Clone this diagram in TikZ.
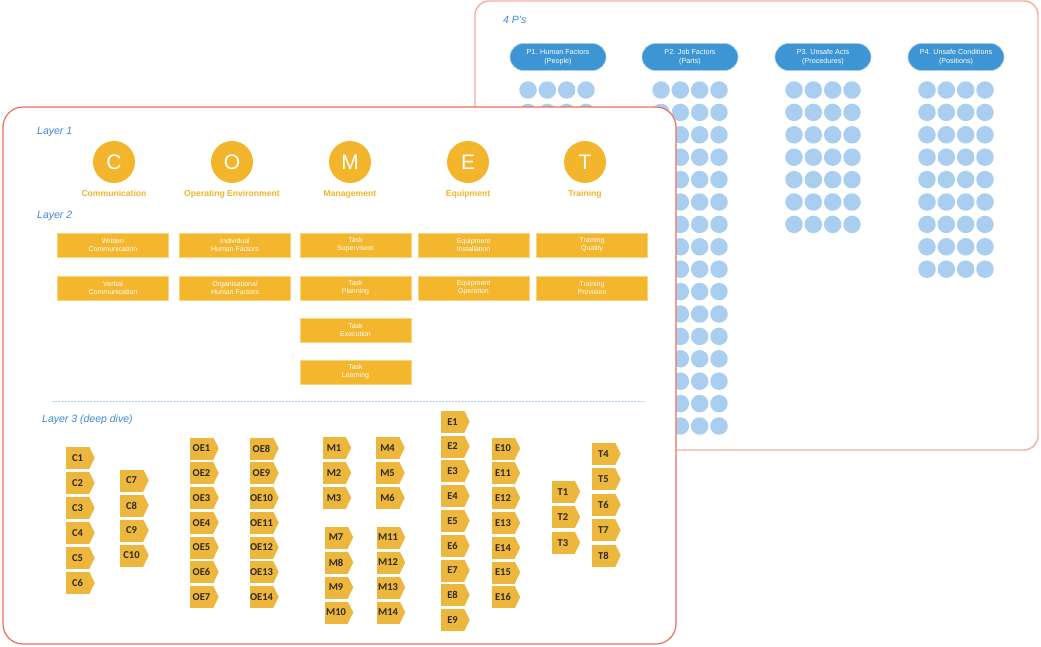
\documentclass[tikz,border=0pt]{standalone}
\usepackage{fontspec}
\setmainfont{Liberation Sans}
\newfontfamily\tagfont{Carlito}
\definecolor{lbluetxt}{HTML}{3F88D2}
\definecolor{pillblue}{HTML}{3E95D4}
\definecolor{dotblue}{HTML}{AACEEF}
\definecolor{cometor}{HTML}{F2B52B}
\definecolor{boxor}{HTML}{F3B62C}
\definecolor{tagor}{HTML}{EDB63C}
\definecolor{tagtxt}{HTML}{2E2A22}
\definecolor{rborder}{HTML}{F6ADA0}
\definecolor{lborder}{HTML}{EA6F5A}
\tikzset{
  layerlbl/.style={anchor=west, inner sep=0, text=lbluetxt, font=\itshape\fontsize{10.5}{12}\selectfont},
  pillbox/.style={fill=pillblue, draw=dotblue, line width=0.6, rounded corners=13.5, minimum width=96, minimum height=27, inner sep=0, align=center, text=white, font=\fontsize{7.2}{9}\selectfont},
  dotc/.style={circle, fill=dotblue, minimum size=17.5, inner sep=0},
  cometc/.style={circle, fill=cometor, minimum size=42, inner sep=0, text=white, font=\fontsize{21}{21}\selectfont},
  cometlbl/.style={anchor=base, inner sep=0, text=cometor, font=\bfseries\fontsize{8.6}{10}\selectfont},
  l2box/.style={fill=boxor, draw=boxor!60!white, line width=0.5, minimum width=111, minimum height=24.5, inner sep=0, align=center, text=white, font=\fontsize{7}{8.2}\selectfont},
  tagbox/.style={rectangle, fill=tagor, minimum width=23, minimum height=22, inner sep=0, text=tagtxt, font=\tagfont\bfseries\fontsize{10.5}{10.5}\selectfont},
  tagtip/.style={fill=tagor},
}
\newcommand\tagcolumn[4]{%
  \foreach \lab [count=\i from 0] in {#4} {%
    \node[tagbox] (\lab) at (#1,{#2+#3*\i}) {\lab};
    \fill[tagtip] (\lab.north east) -- ++(5.5,11) -- (\lab.south east) -- cycle;}}
\begin{document}
\begin{tikzpicture}[x=1pt,y=-1pt]
\useasboundingbox (0,0) rectangle (1041,646);
% ---------- right panel: 4 P's ----------
\draw[draw=rborder, line width=1.4, fill=white, rounded corners=14] (475,1) rectangle (1038,450);
\node[layerlbl] (fourp) at (503,20) {4 P's};
\node[pillbox] (p1) at (558,57) {P1. Human Factors\\(People)};
\node[pillbox] (p2) at (690,57) {P2. Job Factors\\(Parts)};
\node[pillbox] (p3) at (823,57) {P3. Unsafe Acts\\(Procedures)};
\node[pillbox] (p4) at (956,57) {P4. Unsafe Conditions\\(Positions)};
\foreach \cx/\nr [count=\k] in {557/16, 690/16, 823/7, 956/9} {
  \foreach \r in {1,...,\nr} {
    \foreach \c [count=\j] in {-29,-9.67,9.67,29} {
      \node[dotc] (dot\k-\r-\j) at ({\cx+\c},{90+22.4*(\r-1)}) {};
    }
  }
}
% ---------- left panel: COMET ----------
\draw[draw=lborder, line width=1.2, fill=white, rounded corners=20] (3,107) rectangle (676,644);
\node[layerlbl] (layer1) at (37,132) {Layer 1};
\node[layerlbl] (layer2) at (37,216) {Layer 2};
\node[layerlbl] (layer3) at (42,420) {Layer 3 (deep dive)};
\node[cometc] (cC) at (114,162) {C};
\node[cometc] (cO) at (232,162) {O};
\node[cometc] (cM) at (350,162) {M};
\node[cometc] (cE) at (468,162) {E};
\node[cometc] (cT) at (585,162) {T};
\begin{scope}
\clip (40,180) rectangle (650,197);
\node[cometlbl] (lC) at (114,196.5) {Communication};
\node[cometlbl] (lO) at (232,196.5) {Operating Environment};
\node[cometlbl] (lM) at (350,196.5) {Management};
\node[cometlbl] (lE) at (468,196.5) {Equipment};
\node[cometlbl] (lT) at (585,196.5) {Training};
\end{scope}
% layer 2 boxes
\node[l2box] (wc) at (113,245) {Written\\Communication};
\node[l2box] (vc) at (113,288) {Verbal\\Communication};
\node[l2box] (ihf) at (235,245) {Individual\\Human Factors};
\node[l2box] (ohf) at (235,288) {Organisational\\Human Factors};
\node[l2box] (ts) at (355.5,245) {Task\\Supervision};
\node[l2box] (tp) at (355.5,288) {Task\\Planning};
\node[l2box] (te) at (355.5,330) {Task\\Execution};
\node[l2box] (tl) at (355.5,372) {Task\\Learning};
\node[l2box] (ei) at (473.5,245) {Equipment\\Installation};
\node[l2box] (eo) at (473.5,288) {Equipment\\Operation};
\node[l2box] (tq) at (592,245) {Training\\Quality};
\node[l2box] (tpr) at (592,288) {Training\\Provision};
% separator
\coordinate (sepA) at (52,401);
\coordinate (sepB) at (645,401);
\draw[dotblue, line width=0.9, dash pattern=on 2pt off 1.2pt] (sepA) -- (sepB);
% layer 3 tags
\tagcolumn{77.5}{458}{25}{C1,C2,C3,C4,C5,C6}
\tagcolumn{131.5}{480.5}{25}{C7,C8,C9,C10}
\tagcolumn{201.5}{448.5}{24.75}{OE1,OE2,OE3,OE4,OE5,OE6,OE7}
\tagcolumn{261.5}{448.5}{24.75}{OE8,OE9,OE10,OE11,OE12,OE13,OE14}
\tagcolumn{334}{448}{25}{M1,M2,M3}
\tagcolumn{387.5}{448}{25}{M4,M5,M6}
\tagcolumn{336}{537.5}{25}{M7,M8,M9,M10}
\tagcolumn{388}{537.5}{25}{M11,M12,M13,M14}
\tagcolumn{452.5}{421.7}{24.8}{E1,E2,E3,E4,E5,E6,E7,E8,E9}
\tagcolumn{503}{448.5}{24.8}{E10,E11,E12,E13,E14,E15,E16}
\tagcolumn{563}{491.7}{25.5}{T1,T2,T3}
\tagcolumn{603.5}{454}{25.4}{T4,T5,T6,T7,T8}
\end{tikzpicture}
\end{document}
